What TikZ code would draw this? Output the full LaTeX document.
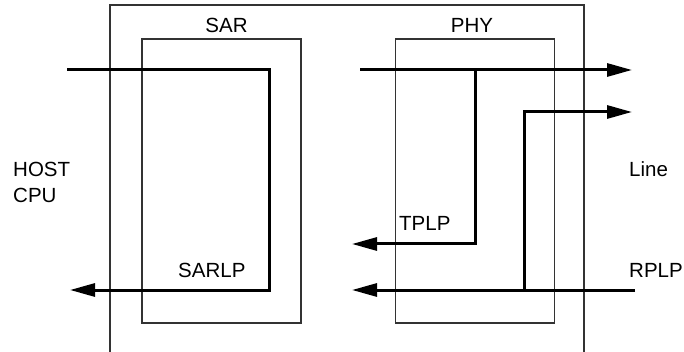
\documentclass[tikz,border=0pt]{standalone}
\usepackage{fontspec}
\setmainfont{Liberation Sans}
\usetikzlibrary{arrows.meta}
\begin{document}
\begin{tikzpicture}[x=1pt,y=-1pt,
  thinline/.style={line width=1.3pt,draw=black!80},
  sig/.style={line width=3pt,line cap=butt,line join=miter},
  sigarrow/.style={sig,-{Triangle[length=25pt,width=13pt]}},
  lbl/.style={inner sep=0pt,font=\fontsize{20.5}{26}\selectfont}]
\useasboundingbox (0,0) rectangle (684,352);
% outer box (open at bottom)
\draw[thinline] (110,352) -- (110,5) -- (584,5) -- (584,352);
% SAR and PHY boxes
\node[thinline,draw,minimum width=159pt,minimum height=284pt,inner sep=0pt] (sar) at (221.5,181) {};
\node[thinline,draw,minimum width=159pt,minimum height=284pt,inner sep=0pt] (phy) at (475,181) {};
\node[lbl] (sarlbl) at (226.5,25) {SAR};
\node[lbl] (phylbl) at (472,25) {PHY};
% labels
\node[lbl,anchor=base west,align=left] (host) at (13,203) {HOST\\CPU};
\node[lbl,anchor=base west] (line) at (629,177) {Line};
\node[lbl,anchor=base west] (tplp) at (399,231) {TPLP};
\node[lbl,anchor=base west] (sarlp) at (178,277.5) {SARLP};
\node[lbl,anchor=base west] (rplp) at (629,277) {RPLP};
% coordinates
\coordinate (hin) at (67,70);
\coordinate (hc1) at (269,70);
\coordinate (hc2) at (269,290);
\coordinate (hout) at (70,290);
\coordinate (tin) at (360,70);
\coordinate (tbr) at (475,70);
\coordinate (tout) at (632,70);
\coordinate (tdn) at (475,244);
\coordinate (tlp) at (352,244);
\coordinate (rin) at (635,290);
\coordinate (rbr) at (524,290);
\coordinate (rout) at (352,290);
\coordinate (rup) at (524,112);
\coordinate (rlp) at (632,112);
% signals
\draw[sigarrow] (hin) -- (hc1) -- (hc2) -- (hout);
\draw[sigarrow] (tin) -- (tout);
\draw[sigarrow] (tbr) -- (tdn) -- (tlp);
\draw[sigarrow] (rin) -- (rout);
\draw[sigarrow] (rbr) -- (rup) -- (rlp);
\end{tikzpicture}
\end{document}
